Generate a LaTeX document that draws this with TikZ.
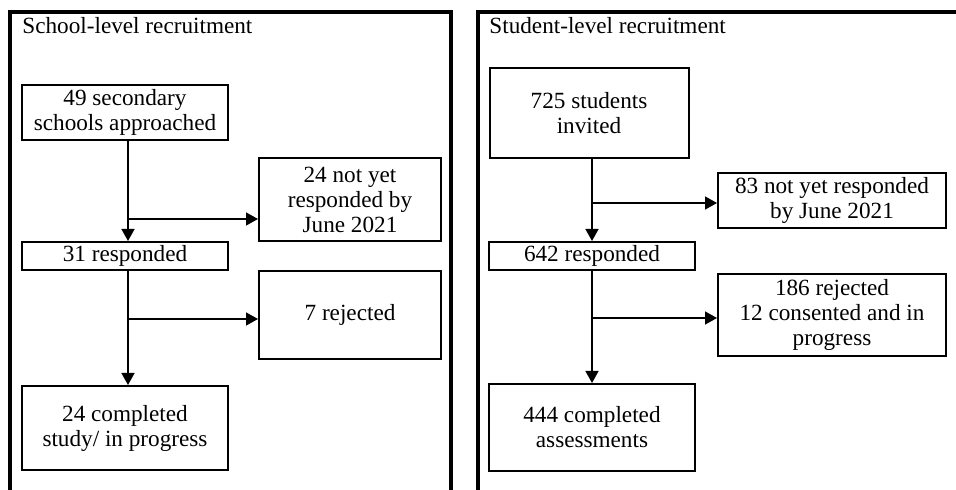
\documentclass[tikz,border=0pt]{standalone}
\usepackage{fontspec}
\setmainfont{Liberation Serif}
\usetikzlibrary{arrows.meta, positioning, calc}
\tikzset{
    box/.style={rectangle, draw, line width=1pt, inner sep=0pt, align=center, font=\fontsize{11.6}{12.5}\selectfont},
    arrow/.style={line width=0.75pt, -{Triangle[length=6pt,width=6.5pt]}},
    panel/.style={line width=2pt},
    paneltitle/.style={anchor=base west, inner sep=0pt, font=\fontsize{11.6}{12.5}\selectfont}
}

\begin{document}
\begin{tikzpicture}[x=0.5pt, y=-0.5pt]
    \useasboundingbox (0,0) rectangle (956,490);

    % Panels
    \draw [panel] (10,490) -- (10,12) -- (451,12) -- (451,490);
    \draw [panel] (478,490) -- (478,12) -- (956,12);
    \node (schtitle) [paneltitle] at (22,34) {School-level recruitment};
    \node (stutitle) [paneltitle] at (489,34) {Student-level recruitment};

    % School level
    \node (schools) [box, minimum width=103pt, minimum height=27.5pt] at (125,112.5) {49 secondary\\schools approached};
    \node (schwait) [box, minimum width=91pt, minimum height=41.5pt] at (350,199.5) {24 not yet\\responded by\\June 2021};
    \node (schresp) [box, minimum width=103pt, minimum height=14pt] at (125,256) {31 responded};
    \node (schrej) [box, minimum width=91pt, minimum height=44pt] at (350,315) {7 rejected};
    \node (schdone) [box, minimum width=103pt, minimum height=42pt] at (125,428) {24 completed\\study/ in progress};

    \coordinate (schb1) at (128,219);
    \coordinate (schb2) at (128,319);
    \draw [arrow] ($(schools.south)+(3,0)$) -- ($(schresp.north)+(3,0)$);
    \draw [arrow] (schb1) -- (schb1 -| schwait.west);
    \draw [arrow] ($(schresp.south)+(3,0)$) -- ($(schdone.north)+(3,0)$);
    \draw [arrow] (schb2) -- (schb2 -| schrej.west);

    % Student level
    \node (students) [box, minimum width=99.5pt, minimum height=45pt] at (589,113) {725 students\\invited};
    \node (stuwait) [box, minimum width=114pt, minimum height=27.5pt] at (832,200.5) {83 not yet responded\\by June 2021};
    \node (sturesp) [box, minimum width=103pt, minimum height=14pt] at (592,256) {642 responded};
    \node (sturej) [box, minimum width=114pt, minimum height=41pt] at (832,315) {186 rejected\\12 consented and in\\progress};
    \node (studone) [box, minimum width=103pt, minimum height=43.5pt] at (592,427.5) {444 completed\\assessments};

    \coordinate (stub1) at (592,203);
    \coordinate (stub2) at (592,318);
    \draw [arrow] (students.south -| sturesp.north) -- (sturesp.north);
    \draw [arrow] (stub1) -- (stub1 -| stuwait.west);
    \draw [arrow] (sturesp) -- (studone);
    \draw [arrow] (stub2) -- (stub2 -| sturej.west);
\end{tikzpicture}
\end{document}
